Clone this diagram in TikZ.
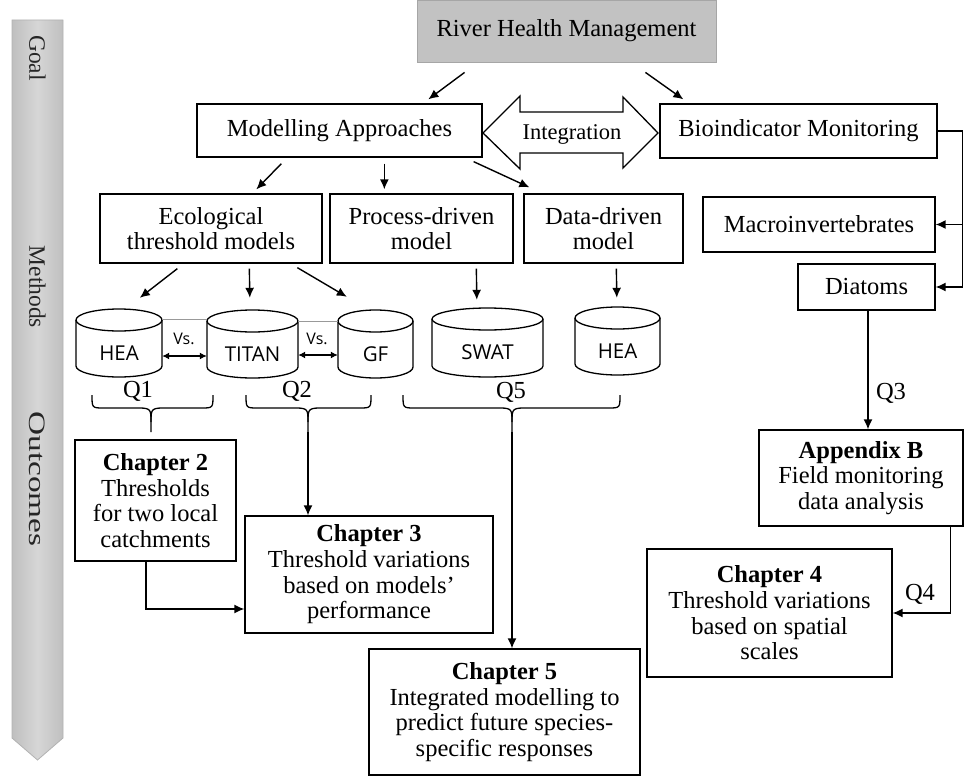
\documentclass[tikz,border=0pt]{standalone}
\usepackage{fontspec}
\usepackage{graphicx}
\setmainfont{Liberation Serif}
\newfontfamily\cylfont{Open Sans}
\usetikzlibrary{arrows.meta,calc}
\newcommand\myfs{\fontsize{24.5}{25.7}\selectfont}
\newcommand\intfs{\fontsize{22.5}{24}\selectfont}
\newcommand\barfs{\fontsize{23.5}{25}\selectfont}
\newcommand\drawcyl[4]{%
  \draw[cylst] (#1,#3) -- (#1,#4) arc[start angle=180,end angle=0,x radius={(#2-#1)/2},y radius=11] -- (#2,#3);
  \draw[cylst] ({(#1+#2)/2},#3) ellipse[x radius={(#2-#1)/2},y radius=11];
}
\begin{document}
\begin{tikzpicture}[x=1pt,y=-1pt,
  box/.style={draw=black, line width=1.3pt, fill=white, align=center, inner sep=0pt, font=\myfs},
  arr/.style={line width=1.4pt, -{Latex[length=10pt,width=9pt]}},
  darr/.style={line width=1.2pt, {Latex[length=7pt,width=7pt]}-{Latex[length=7pt,width=7pt]}},
  cylst/.style={line width=1.3pt},
  cyltxt/.style={inner sep=0pt, font=\cylfont\fontsize{20.5}{22}\selectfont},
  vstxt/.style={inner sep=0pt, font=\cylfont\fontsize{16}{18}\selectfont},
  bracest/.style={line width=1.3pt},
  lbl/.style={inner sep=0pt, font=\myfs},
  barlbl/.style={inner sep=0pt, rotate=-90, font=\barfs, text=black!85}]
\useasboundingbox (0,0) rectangle (966,776);

% side bar
\path[draw=black!30, line width=0.8pt, left color=black!25, right color=black!25, middle color=black!16]
  (12,20) -- (63,20) -- (63,738) -- (37.5,760) -- (12,738) -- cycle;
\node[barlbl] (goal) at (37.5,58) {Goal};
\node[barlbl] (methods) at (37.5,287) {Methods};
\node[barlbl] (outcomes) at (37.5,479) {\scalebox{1.42}[1]{Outcomes}};

% top boxes
\node[box, fill=black!24, draw=black!35, line width=0.8pt, minimum width=299, minimum height=62] (rhm) at (566.5,31) {River Health Management};
\node[box, minimum width=285, minimum height=53] (ma) at (339.5,130.5) {Modelling Approaches};
\node[box, minimum width=277, minimum height=54] (bm) at (798.5,131) {Bioindicator Monitoring};

% integration double arrow
\draw[line width=1.3pt, fill=white] (483,133) -- (520,96) -- (520,112) -- (623,112) -- (623,97)
  -- (658,133) -- (623,168) -- (623,153) -- (520,153) -- (520,169) -- cycle;
\node[inner sep=0pt, font=\intfs] (integ) at (572,134) {Integration};

% method boxes
\node[box, minimum width=222, minimum height=69] (eco) at (211,228.5) {Ecological\\threshold models};
\node[box, minimum width=183, minimum height=69] (proc) at (421.5,228.5) {Process-driven\\model};
\node[box, minimum width=159, minimum height=69] (data) at (603.5,228.5) {Data-driven\\model};
\node[box, minimum width=232, minimum height=55] (macro) at (819,224.5) {Macroinvertebrates};
\node[box, minimum width=137, minimum height=46] (diat) at (866.5,287) {Diatoms};

% cylinders
\drawcyl{76}{162}{320}{366}
\drawcyl{207}{298}{321}{367}
\drawcyl{338}{413}{321}{367}
\drawcyl{432}{543}{319}{366}
\drawcyl{575}{660}{318}{364}
\node[cyltxt, minimum width=86, minimum height=46] (hea1) at (119,353) {HEA};
\node[cyltxt, minimum width=91, minimum height=46] (titan) at (252.5,354) {TITAN};
\node[cyltxt, minimum width=75, minimum height=46] (gf) at (375.5,354) {GF};
\node[cyltxt, minimum width=111, minimum height=47] (swat) at (487.5,352.5) {SWAT};
\node[cyltxt, minimum width=85, minimum height=46] (hea2) at (617.5,351) {HEA};

\draw[black!40, line width=0.6pt] (162,319) -- (207,319);
\draw[black!40, line width=0.6pt] (298,321) -- (338,321);
\node[vstxt] (vs1) at (184,339) {Vs.};
\node[vstxt] (vs2) at (317,339) {Vs.};
\draw[darr] ([yshift=-3pt]hea1.east) -- ([yshift=-3pt]hea1.east -| titan.west);
\draw[darr] ([yshift=-1pt]titan.east) -- ([yshift=-1pt]titan.east -| gf.west);

% arrows top
\draw[arr] ([shift={(48,10)}]rhm.south west) -- ([shift={(232,-4)}]ma.north west);
\draw[arr] ([shift={(-71,10)}]rhm.south east) -- ([shift={(24,-4)}]bm.north west);
\draw[arr] ([shift={(85,6)}]ma.south west) -- ([shift={(157,-4)}]eco.north west);
\draw[arr] ([shift={(188,6)}]ma.south west) -- ([shift={(55,-4)}]proc.north west);
\draw[arr] ([shift={(-9,4)}]ma.south east) -- ([shift={(6,-6)}]data.north west);

% arrows to cylinders
\draw[arr] ([shift={(78,5)}]eco.south west) -- ([shift={(64,-32)}]hea1.north west);
\draw[arr] ([shift={(150,5)}]eco.south west) -- ([shift={(43,-33)}]titan.north west);
\draw[arr] ([shift={(198,4)}]eco.south west) -- ([shift={(9,-34)}]gf.north west);
\draw[arr] ([shift={(147,5)}]proc.south west) -- ([shift={(45,-29)}]swat.north west);
\draw[arr] ([shift={(93,5)}]data.south west) -- ([shift={(42,-30)}]hea2.north west);

% braces
\draw[bracest] (92,395) .. controls (92,408) and (92,408) .. (104,408) -- (139,408)
  .. controls (151,408) and (151,410) .. (151,422) -- (151,432);
\draw[bracest] (151,422) .. controls (151,410) and (151,408) .. (163,408) -- (201,408)
  .. controls (213,408) and (213,408) .. (213,395);
\coordinate (q1tip) at (151,432);
\draw[bracest] (246,395) .. controls (246,408) and (246,408) .. (258,408) -- (296,408)
  .. controls (308,408) and (308,410) .. (308,422) -- (308,432);
\draw[bracest] (308,422) .. controls (308,410) and (308,408) .. (320,408) -- (359,408)
  .. controls (371,408) and (371,408) .. (371,395);
\coordinate (q2tip) at (308,432);
\draw[bracest] (403,395) .. controls (403,408) and (403,408) .. (415,408) -- (500,408)
  .. controls (512,408) and (512,410) .. (512,422) -- (512,432);
\draw[bracest] (512,422) .. controls (512,410) and (512,408) .. (524,408) -- (608,408)
  .. controls (620,408) and (620,408) .. (620,395);
\coordinate (q5tip) at (512,432);
\node[lbl] (q1) at (138,391) {Q1};
\node[lbl] (q2) at (297,391) {Q2};
\node[lbl] (q5) at (511,392) {Q5};

% outcome boxes
\node[box, minimum width=161, minimum height=121] (ch2) at (155.5,500.5) {\textbf{Chapter 2}\\Thresholds\\for two local\\catchments};
\node[box, minimum width=248, minimum height=117] (ch3) at (369,574.5) {\textbf{Chapter 3}\\Threshold variations\\based on models'\\performance};
\node[box, minimum width=271, minimum height=126] (ch5) at (504.5,712) {\textbf{Chapter 5}\\Integrated modelling to\\predict future species-\\specific responses};
\node[box, minimum width=204, minimum height=96] (appb) at (861,478) {\textbf{Appendix B}\\Field monitoring\\data analysis};
\node[box, minimum width=245, minimum height=128] (ch4) at (769.5,613) {\textbf{Chapter 4}\\Threshold variations\\based on spatial\\scales};

% outcome connectors
\draw[arr] (q2tip) -- (q2tip |- ch3.north);
\draw[arr] (q5tip) -- (q5tip |- ch5.north);
\draw[arr] ([xshift=-9.5pt]ch2.south) |- ([yshift=-34.5pt]ch3.west);

% right side
\coordinate (rtop) at ($(bm.east)+(25,0)$);
\draw[line width=1.4pt] (bm.east) -- (rtop);
\draw[arr] (rtop) |- (macro.east);
\draw[arr] (rtop) |- (diat.east);
\draw[arr] ([xshift=1.5pt]diat.south) -- ([xshift=1.5pt]diat.south |- appb.north);
\node[lbl] (q3) at (891,393) {Q3};
\draw[arr] ([xshift=-13pt]appb.south east) |- (ch4.east);
\node[lbl] (q4) at (920,594) {Q4};
\end{tikzpicture}
\end{document}
